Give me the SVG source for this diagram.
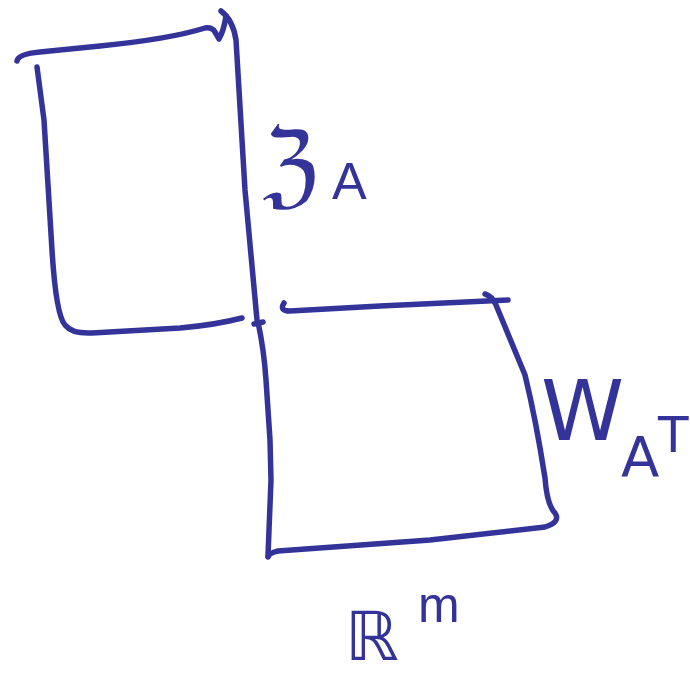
<svg xmlns="http://www.w3.org/2000/svg" width="690" height="678" viewBox="0 0 690 678">
<style>
.s{fill:none;stroke:#33339a;stroke-width:5.5;stroke-linecap:round;stroke-linejoin:round}
.t{fill:#33339a;font-family:"DejaVu Sans","Liberation Sans",sans-serif}
</style>
<rect width="690" height="678" fill="#ffffff"/>
<g id="box-upper">
<path class="s" d="M17,61 Q18,54 40,52 L100,46 Q170,39 205,28 Q212,27 215,32 L219,39 Q224,30 226,16"/>
<path class="s" d="M221,11 Q233,20 236,40 L245,190 L257,320"/>
<path class="s" d="M37,67 L44,120 L52,250 Q56,315 65,325 Q72,334 92,333 L180,328 Q215,325 242,318"/>
<path class="s" d="M254,324 L263,322"/>
</g>
<g id="box-lower">
<path class="s" d="M284,303 Q279,311 290,311 L380,306 L508,300"/>
<path class="s" d="M485,294 Q492,296 496,305 L525,375 Q536,420 545,478 Q547,505 555,513 Q561,522 545,527 L430,540 L278,551 Q269,553 268,557"/>
<path class="s" d="M258,322 Q264,350 266,380 L270,440 L271,480 L269,530 L268,556"/>
</g>
<g id="labels">
<text class="t" x="262" y="196" font-size="92">ℨ<tspan x="332" y="199" font-size="52" font-family="Liberation Sans,sans-serif">A</tspan></text>
<text class="t" x="541" y="440" font-size="84" font-family="Liberation Sans,sans-serif">W<tspan x="621" y="476" font-size="56">A</tspan><tspan x="658" y="452" font-size="50">T</tspan></text>
<text class="t" x="345" y="660" font-size="68">ℝ<tspan x="418" y="622" font-size="50" font-family="Liberation Sans,sans-serif">m</tspan></text>
</g>
</svg>
